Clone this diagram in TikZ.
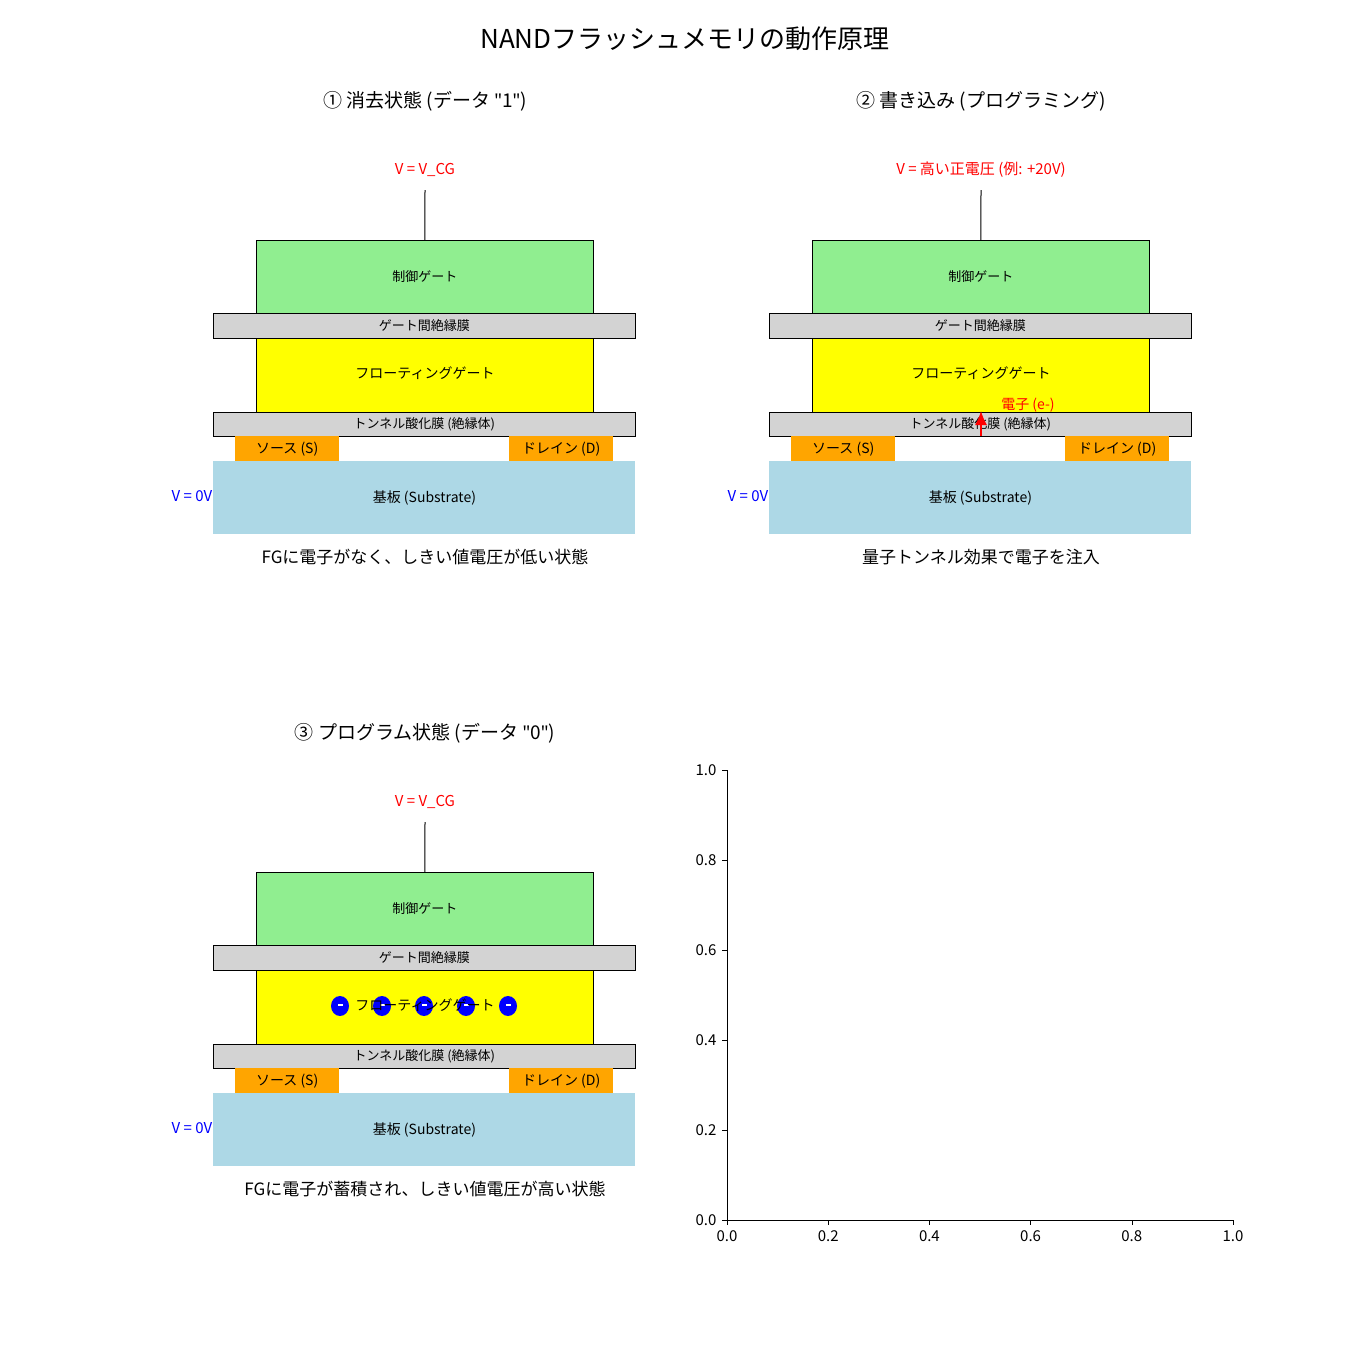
\documentclass[tikz,border=0pt]{standalone}
\usepackage{fontspec}
\usetikzlibrary{arrows.meta}
\setmainfont{Noto Sans CJK JP}
\newfontfamily\qf{Noto Sans}
\newcommand{\dq}{{\qf\symbol{34}}}
\definecolor{lblue}{RGB}{173,216,230}
\definecolor{lgreen}{RGB}{144,238,144}
\definecolor{lgray}{RGB}{211,211,211}
\definecolor{orng}{RGB}{255,165,0}
\definecolor{yel}{RGB}{255,255,0}
\begin{document}
\begin{tikzpicture}[x=1pt,y=-1pt,
 lay/.style={draw=black,line width=0.8pt,anchor=north west,inner sep=0,font=\fontsize{13}{15}\selectfont},
 sd/.style={fill=orng,anchor=north west,inner sep=0,font=\fontsize{14}{16}\selectfont},
 sm/.style={font=\fontsize{13}{15}\selectfont},
 lab/.style={font=\fontsize{15}{17}\selectfont},
 ttl/.style={font=\fontsize{19}{22}\selectfont},
 tk/.style={font=\fontsize{15}{17}\selectfont}]
\useasboundingbox (0,0) rectangle (1371,1371);
\node[font=\fontsize{26}{30}\selectfont] (title) at (685,39) {NANDフラッシュメモリの動作原理};
\newcommand{\cell}[6]{%
\begin{scope}[shift={(#1,#2)}]
\node[ttl] (t#3) at (425,101) {#4};
\node[lab,text=red] (v#3) at (425,170) {#5};
\node[lay,fill=lgreen,minimum width=337pt,minimum height=73pt] (cg#3) at (256,240) {制御ゲート};
\node[lay,fill=lgray,minimum width=422pt,minimum height=25pt] (ig#3) at (213,313) {ゲート間絶縁膜};
\node[lay,fill=yel,minimum width=337pt,minimum height=74pt] (fg#3) at (256,338) {};
\node[lay,fill=lgray,minimum width=422pt,minimum height=24pt] (to#3) at (213,412) {トンネル酸化膜 (絶縁体)};
\node[sd,minimum width=104pt,minimum height=25pt] (s#3) at (235,436) {ソース (S)};
\node[sd,minimum width=104pt,minimum height=25pt] (d#3) at (509,436) {ドレイン (D)};
\node[lay,draw=none,fill=lblue,minimum width=422pt,minimum height=73pt,font=\fontsize{14}{16}\selectfont] (sub#3) at (213,461) {基板 (Substrate)};
\node[lab,text=blue] (g#3) at (192,496) {V = 0V};
\node[font=\fontsize{17}{20}\selectfont] (c#3) at (425,557) {#6};
\draw[line width=1pt] (cg#3.north) -- (425,190);
\end{scope}}
\cell{0}{0}{1}{① 消去状態 (データ \dq1\dq)}{V = V\_CG}{FGに電子がなく、しきい値電圧が低い状態}
\node[sm,font=\fontsize{14}{16}\selectfont] at (425,373) {フローティングゲート};
\cell{556}{0}{2}{② 書き込み (プログラミング)}{V = 高い正電圧 (例: +20V)}{量子トンネル効果で電子を注入}
\node[sm,font=\fontsize{14}{16}\selectfont] at (981,373) {フローティングゲート};
\coordinate (ea) at (981,436);
\draw[red,line width=1.2pt,-{Latex[length=14pt,width=12pt]}] (ea) -- (981,411);
\node[sm,text=red,font=\fontsize{14}{16}\selectfont] (el) at (1028,405) {電子 (e-)};
\cell{0}{632}{3}{③ プログラム状態 (データ \dq0\dq)}{V = V\_CG}{FGに電子が蓄積され、しきい値電圧が高い状態}
\foreach \x in {340,382,424,466,508}{\fill[blue] (\x,1006) ellipse (9pt and 10pt); \fill[white] (\x-2.5,1005.5) rectangle (\x+2.5,1004);}
\node[sm,font=\fontsize{14}{16}\selectfont] at (425,1005) {フローティングゲート};
% axes
\draw[line width=0.8pt] (727,770) -- (727,1220) -- (1233,1220);
\foreach \i/\l in {0/0.0,1/0.2,2/0.4,3/0.6,4/0.8,5/1.0}{
 \draw (727,1220-90*\i) -- (722,1220-90*\i);
 \node[tk,anchor=east] at (720,1220-90*\i) {\l};
 \draw (727+101.2*\i,1220) -- (727+101.2*\i,1225);
 \node[tk,anchor=north] at (727+101.2*\i,1227) {\l};}
\end{tikzpicture}
\end{document}
